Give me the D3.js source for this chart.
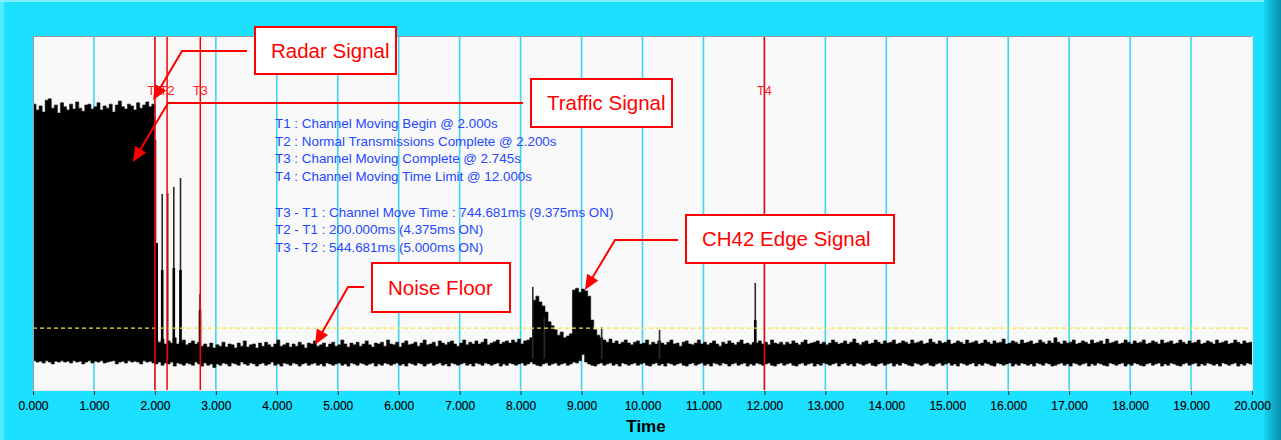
<!DOCTYPE html>
<html><head><meta charset="utf-8">
<script src="https://cdn.jsdelivr.net/npm/d3@7"></script>
<style>html,body{margin:0;padding:0;background:#1ce0ff;overflow:hidden}</style>
</head><body><svg id="chart" width="1281" height="440"></svg>
<script>
// ---------------- DATA ----------------
const sampleStep = 0.05; // seconds between envelope samples
// upper envelope of the received signal (dBm), one value per sample (0 .. 20 s)
const sigMax = [
 -35.4,-36.7,-35.8,-37.2,-34.5,-34.2,-36.3,-35.6,-37.4,-35.1,
 -36.0,-36.7,-35.4,-36.5,-34.9,-36.3,-37.0,-35.6,-35.4,-36.5,
 -36.0,-35.1,-36.7,-35.8,-36.3,-35.4,-37.2,-35.6,-34.7,-36.0,
 -36.5,-35.4,-35.8,-36.7,-35.1,-36.3,-35.6,-34.9,-36.0,-35.4,
 -88.7,-89.2,-88.5,-89.6,-88.9,-89.4,-88.2,-89.6,-89.2,-88.7,-89.8,-89.4,-88.9,-89.6,-89.2,
 -90.1,-89.6,-90.3,-89.4,-90.5,-89.8,-90.1,-89.2,-90.3,-89.6,
 -89.8,-90.5,-89.4,-90.1,-88.9,-90.3,-89.8,-89.6,-90.5,-89.4,
 -90.1,-89.2,-89.8,-90.3,-89.6,-88.7,-90.1,-89.8,-89.4,-90.3,
 -89.6,-90.1,-89.2,-89.8,-90.5,-89.4,-89.6,-88.9,-90.1,-89.8,
 -89.4,-90.3,-89.6,-89.2,-90.1,-89.8,-88.7,-89.6,-90.3,-89.4,
 -89.8,-89.2,-90.1,-89.6,-88.9,-89.8,-90.3,-89.4,-89.6,-89.2,
 -90.1,-88.7,-89.6,-89.8,-89.2,-90.3,-89.4,-88.9,-89.8,-89.6,
 -89.2,-90.1,-89.4,-88.7,-89.8,-89.6,-89.2,-90.1,-88.9,-89.4,
 -89.8,-89.2,-88.9,-89.6,-90.1,-89.4,-88.7,-89.8,-89.2,-89.6,
 -88.9,-89.6,-89.2,-88.5,-89.8,-89.4,-89.1,-88.7,-89.6,-89.2,
 -88.9,-89.4,-88.7,-89.2,-88.5,-89.6,-88.9,-88.7,-88.2,
 -79.7,-78.8,-80.1,-81.0,-82.4,-84.6,-85.5,-86.4,-87.6,-86.9,-88.2,-87.8,-87.3,
 -77.4,-77.0,-77.9,-77.2,-77.6,-78.8,
 -84.2,-86.4,-87.6,-88.2,
 -88.7,-89.2,-88.5,-89.4,-88.9,-89.6,-89.2,-88.7,-89.4,-89.8,
 -89.2,-88.9,-89.6,-89.4,-88.7,-89.8,-89.2,-89.6,-88.9,-89.4,
 -89.8,-89.2,-88.7,-89.6,-89.4,-90.1,-89.2,-88.9,-89.6,-89.8,
 -89.4,-88.7,-89.6,-89.2,-89.8,-89.4,-88.9,-89.6,-90.1,-89.2,
 -89.6,-88.9,-89.4,-89.8,-89.2,-88.7,-89.6,-89.4,-89.8,-89.2,
 -89.4,-88.9,-89.6,-89.2,-89.8,-88.7,-89.4,-89.6,-89.2,-89.8,
 -89.2,-89.6,-88.9,-89.4,-89.8,-89.2,-88.7,-89.6,-89.4,-89.2,
 -88.9,-89.6,-89.2,-89.8,-89.4,-88.7,-89.2,-89.6,-89.4,-88.9,
 -89.6,-89.2,-88.5,-89.4,-89.8,-89.2,-88.9,-89.6,-89.4,-88.7,
 -89.2,-89.6,-88.9,-89.4,-89.2,-88.7,-89.6,-89.4,-88.9,-89.2,
 -89.6,-88.7,-89.4,-89.2,-88.9,-89.6,-89.4,-88.5,-89.2,-89.6,
 -88.9,-89.4,-89.2,-88.7,-89.6,-89.4,-88.9,-89.2,-89.6,-88.7,
 -89.4,-89.2,-88.9,-89.6,-89.4,-88.7,-89.2,-89.6,-88.9,-89.4,
 -89.2,-88.5,-89.6,-89.4,-88.9,-89.2,-89.6,-88.7,-89.4,-89.2,
 -88.9,-89.6,-89.4,-88.7,-89.2,-89.6,-88.9,-89.4,-88.2,-89.2,
 -89.6,-88.9,-89.4,-89.2,-88.7,-89.6,-89.4,-88.9,-89.2,-89.6,
 -88.7,-89.4,-89.2,-88.9,-89.6,-88.5,-89.4,-89.2,-88.9,-89.6,
 -89.4,-88.7,-89.2,-89.6,-88.9,-89.4,-89.2,-88.7,-89.6,-89.4,
 -88.9,-89.2,-89.6,-88.7,-89.4,-89.2,-88.9,-89.6,-89.4,-88.7,
 -89.2,-89.6,-88.9,-89.4,-89.2,-88.7,-89.6,-89.4,-88.9,-89.2,
 -89.6,-88.7,-89.4,-89.2,-88.9,-89.6,-89.4,-88.7,-89.2,-89.6,
 -88.9,-89.4,-89.2,-89.6
];
// lower envelope of the received signal (dBm)
const sigMin = [
 -93.4,-93.7,-93.5,-93.9,-93.4,-93.7,-94.1,-93.5,-93.7,-93.4,
 -93.7,-93.5,-93.9,-93.4,-93.7,-93.5,-94.1,-93.7,-93.4,-93.9,
 -93.5,-93.7,-93.4,-93.9,-93.7,-93.5,-93.4,-94.1,-93.7,-93.5,
 -93.9,-93.4,-93.7,-93.5,-93.7,-94.1,-93.4,-93.7,-93.5,-93.9,
 -94.1,-93.7,-94.4,-93.9,-94.1,-93.7,-94.6,-93.9,-94.1,-94.4,
 -93.9,-94.1,-94.4,-93.7,-94.1,-94.6,-93.9,-94.4,-94.1,-94.9,
 -94.1,-94.4,-93.9,-94.1,-94.6,-93.9,-94.1,-94.4,-93.7,-94.1,
 -94.4,-93.9,-94.1,-94.6,-94.1,-93.9,-94.4,-94.1,-93.7,-94.4,
 -94.1,-94.6,-93.9,-94.1,-94.4,-93.9,-94.1,-94.6,-94.1,-93.9,
 -94.4,-94.1,-93.9,-94.4,-94.1,-94.6,-93.9,-94.1,-94.4,-94.1,
 -93.9,-94.4,-94.1,-94.6,-93.9,-94.1,-94.4,-93.9,-94.1,-94.4,
 -94.1,-93.9,-94.6,-94.1,-94.4,-93.9,-94.1,-94.4,-94.1,-93.9,
 -94.4,-94.1,-94.6,-93.9,-94.1,-94.4,-93.9,-94.1,-94.6,-94.1,
 -93.9,-94.4,-94.1,-93.9,-94.4,-94.1,-94.6,-93.9,-94.1,-94.4,
 -94.1,-93.9,-94.4,-94.1,-94.6,-93.9,-94.1,-94.4,-93.9,-94.1,
 -94.4,-94.1,-93.9,-94.6,-94.1,-94.4,-93.9,-94.1,-94.4,-94.1,
 -93.9,-94.4,-94.1,-93.7,-94.1,-94.4,-94.6,-94.1,-93.9,-94.4,
 -94.1,-93.9,-94.4,-94.1,-93.9,-94.4,-94.1,-93.7,-93.9,-93.4,
 -92.0,-93.7,-94.1,-94.4,-94.6,-94.1,-93.9,-94.4,-94.1,-93.9,
 -94.4,-94.1,-94.6,-93.9,-94.1,-94.4,-94.1,-93.9,-94.4,-94.1,
 -93.9,-94.4,-94.6,-94.1,-93.9,-94.4,-94.1,-94.6,-93.9,-94.1,
 -94.4,-94.1,-93.9,-94.4,-94.6,-94.1,-93.9,-94.4,-94.1,-93.9,
 -94.4,-94.1,-94.6,-93.9,-94.1,-94.4,-93.9,-94.1,-94.6,-94.1,
 -93.9,-94.4,-94.1,-93.9,-94.6,-94.1,-94.4,-93.9,-94.1,-94.4,
 -94.1,-93.9,-94.4,-94.6,-94.1,-93.9,-94.4,-94.1,-93.9,-94.4,
 -94.6,-94.1,-93.9,-94.4,-94.1,-93.9,-94.6,-94.1,-94.4,-93.9,
 -94.1,-94.4,-94.1,-93.9,-94.6,-94.1,-93.9,-94.4,-94.1,-94.6,
 -93.9,-94.1,-94.4,-94.1,-93.9,-94.4,-94.6,-94.1,-93.9,-94.4,
 -94.1,-93.9,-94.6,-94.1,-94.4,-93.9,-94.1,-94.4,-94.6,-93.9,
 -94.1,-94.4,-94.1,-93.9,-94.4,-94.6,-94.1,-93.9,-94.4,-94.1,
 -93.9,-94.4,-94.1,-94.6,-93.9,-94.1,-94.4,-94.1,-93.9,-94.6,
 -94.1,-94.4,-93.9,-94.1,-94.4,-94.6,-93.9,-94.1,-94.4,-94.1,
 -93.9,-94.6,-94.1,-94.4,-93.9,-94.1,-94.4,-94.1,-94.6,-93.9,
 -94.1,-94.4,-93.9,-94.1,-94.6,-94.4,-94.1,-93.9,-94.4,-94.1,
 -94.6,-93.9,-94.1,-94.4,-94.1,-93.9,-94.6,-94.1,-94.4,-93.9,
 -94.1,-94.4,-94.6,-93.9,-94.1,-94.4,-94.1,-93.9,-94.6,-94.1,
 -94.4,-93.9,-94.1,-94.4,-94.6,-94.1,-93.9,-94.4,-94.1,-93.9,
 -94.6,-94.1,-94.4,-93.9,-94.1,-94.4,-94.6,-94.1,-93.9,-94.4,
 -94.1,-93.9,-94.6,-94.1,-94.4,-93.9,-94.1,-94.4,-94.1,-94.6,
 -93.9,-94.1,-94.4,-94.1,-93.9,-94.6,-94.1,-94.4,-93.9,-94.1,
 -94.4
];
// isolated narrow pulses (time s, peak dBm)
const spikeTimes = [2.01, 2.03, 2.12, 2.21, 2.31, 2.42, 2.74, 8.20, 8.39, 9.33, 10.28, 11.85];
const spikePeaks = [-43.5, -66.8, -55.7, -55.5, -54.1, -52.1, -78.3, -76.7, -83.6, -85.8, -86.4, -75.8];
// denser (thicker) lower parts of some pulses
const coreTimes = [2.03, 2.12, 2.31, 2.42, 2.74, 11.85];
const corePeaks = [-66.8, -72.9, -72.4, -72.9, -81.9, -84.2];
const spikeBase = -93.0;

const markerNames = ["T1", "T2", "T3", "T4"];
const markerTimes = [2.000, 2.200, 2.745, 12.000];
const thresholdLevel = -86.0;

const xTickValues = [0,1,2,3,4,5,6,7,8,9,10,11,12,13,14,15,16,17,18,19,20];
const xTitle = "Time";

const infoLines = [
  "T1 : Channel Moving Begin @ 2.000s",
  "T2 : Normal Transmissions Complete @ 2.200s",
  "T3 : Channel Moving Complete @ 2.745s",
  "T4 : Channel Moving Time Limit @ 12.000s",
  "",
  "T3 - T1 : Channel Move Time : 744.681ms (9.375ms ON)",
  "T2 - T1 : 200.000ms (4.375ms ON)",
  "T3 - T2 : 544.681ms (5.000ms ON)"
];

const calloutLabels = ["Radar Signal", "Traffic Signal", "Noise Floor", "CH42 Edge Signal"];
const calloutTipTimes = [1.969, 1.641, 4.627, 9.056];
const calloutTipValues = [-34.5, -48.5, -89.8, -77.4];

// ---------------- LAYOUT ----------------
const W = 1281, H = 440;
const plot = {left: 33, right: 1252, top: 36, bottom: 390};
const calloutBoxes = [[255,27,141,47],[531,79,141,48],[372,263,138,49],[686,215,208,48]];
const calloutElbows = [[182,51],[168,103],[348,287],[615,240]];

const svg = d3.select("#chart");
const x = d3.scaleLinear().domain([0, 20]).range([plot.left, plot.right]);
const y = d3.scaleLinear().domain([-100, -20]).range([plot.bottom, plot.top]);

// background frame
const defs = svg.append("defs");
const rg = defs.append("linearGradient").attr("id","rightEdge").attr("x1","0").attr("x2","1").attr("y1","0").attr("y2","0");
rg.append("stop").attr("offset","0").attr("stop-color","#1ad8f8");
rg.append("stop").attr("offset","0.3").attr("stop-color","#12bcdc");
rg.append("stop").attr("offset","1").attr("stop-color","#0890ac");
defs.append("clipPath").attr("id","plotClip").append("rect")
  .attr("x", plot.left).attr("y", plot.top).attr("width", plot.right-plot.left).attr("height", plot.bottom-plot.top);

svg.append("rect").attr("width", W).attr("height", H).attr("fill", "#1be0ff");
svg.append("rect").attr("x",0).attr("y",0).attr("width",4).attr("height",H).attr("fill","#52eaff");
svg.append("rect").attr("x",0).attr("y",0).attr("width",W).attr("height",2).attr("fill","#7ff0ff");
svg.append("rect").attr("x",1264).attr("y",0).attr("width",17).attr("height",H).attr("fill","url(#rightEdge)");

// plot area
svg.append("rect").attr("x", plot.left).attr("y", plot.top)
  .attr("width", plot.right-plot.left).attr("height", plot.bottom-plot.top).attr("fill", "#f9f9f9");

// vertical grid
svg.append("g").selectAll("line").data(xTickValues.filter(d => d > 0 && d < 20)).join("line")
  .attr("x1", d => x(d)).attr("x2", d => x(d)).attr("y1", plot.top).attr("y2", plot.bottom)
  .attr("stroke", "#3cd6f4").attr("stroke-width", 1.6);

const g = svg.append("g").attr("clip-path", "url(#plotClip)");

// signal envelope
const area = d3.area()
  .x((d, i) => x(i * sampleStep))
  .y0((d, i) => y(sigMin[i]))
  .y1((d, i) => y(sigMax[i]))
  .curve(d3.curveStepAfter);
g.append("path").datum(sigMax).attr("d", area).attr("fill", "#000").attr("stroke", "#111").attr("stroke-width", 0.6);

// spikes
g.append("g").selectAll("line").data(spikeTimes).join("line")
  .attr("x1", d => x(d)).attr("x2", d => x(d))
  .attr("y1", y(spikeBase)).attr("y2", (d, i) => y(spikePeaks[i]))
  .attr("stroke", "#2a2a2a").attr("stroke-width", 1.6);
g.append("g").selectAll("line").data(coreTimes).join("line")
  .attr("x1", d => x(d)).attr("x2", d => x(d))
  .attr("y1", y(spikeBase)).attr("y2", (d, i) => y(corePeaks[i]))
  .attr("stroke", "#000").attr("stroke-width", 2.6);

// threshold
g.append("line").attr("x1", plot.left).attr("x2", plot.right)
  .attr("y1", y(thresholdLevel)).attr("y2", y(thresholdLevel))
  .attr("stroke", "#f5e63c").attr("stroke-width", 1.2).attr("stroke-dasharray", "4,3");

// marker lines
svg.append("g").selectAll("line").data(markerTimes).join("line")
  .attr("x1", d => x(d)).attr("x2", d => x(d)).attr("y1", plot.top).attr("y2", plot.bottom)
  .attr("stroke", "#ff0000").attr("stroke-width", 1.5);
svg.append("g").selectAll("text").data(markerTimes).join("text")
  .attr("x", d => x(d)).attr("y", 95).attr("text-anchor", "middle")
  .attr("font-family", "Liberation Sans, Arial, sans-serif").attr("font-size", 12.5)
  .attr("fill", "#ff2020").text((d, i) => markerNames[i]);

// plot border (sunken look)
svg.append("line").attr("x1", plot.left).attr("x2", plot.right).attr("y1", plot.top+0.5).attr("y2", plot.top+0.5).attr("stroke", "#9a9a9a");
svg.append("line").attr("x1", plot.left+0.5).attr("x2", plot.left+0.5).attr("y1", plot.top).attr("y2", plot.bottom).attr("stroke", "#9a9a9a");
svg.append("line").attr("x1", plot.right+0.5).attr("x2", plot.right+0.5).attr("y1", plot.top).attr("y2", plot.bottom+1).attr("stroke", "#e8e8e8");
svg.append("line").attr("x1", plot.left).attr("x2", plot.right).attr("y1", plot.bottom+0.5).attr("y2", plot.bottom+0.5).attr("stroke", "#e8e8e8");

// info text
svg.append("g").selectAll("text").data(infoLines).join("text")
  .attr("x", 275).attr("y", (d, i) => 128 + i * 17.7)
  .attr("font-family", "Liberation Sans, Arial, sans-serif").attr("font-size", 13.4)
  .attr("fill", "#2448ff").text(d => d);

// x axis
const axis = d3.axisBottom(x).tickValues(xTickValues).tickFormat(d3.format(".3f")).tickSize(4).tickPadding(6);
const ax = svg.append("g").attr("transform", `translate(0,${plot.bottom+1})`).call(axis);
ax.select(".domain").remove();
ax.selectAll(".tick line").attr("stroke", "#222");
ax.selectAll(".tick text").attr("font-family", "Liberation Sans, Arial, sans-serif").attr("font-size", 12)
  .attr("fill", "#000").attr("stroke", "#000").attr("stroke-width", 0.15);
svg.append("text").attr("x", 646).attr("y", 432).attr("text-anchor", "middle")
  .attr("font-family", "Liberation Sans, Arial, sans-serif").attr("font-size", 17).attr("font-weight", "bold")
  .attr("fill", "#000").text(xTitle);

// callouts
calloutLabels.forEach((lab, i) => {
  const [bx, by, bw, bh] = calloutBoxes[i];
  const [ex, ey] = calloutElbows[i];
  const tx = x(calloutTipTimes[i]), ty = y(calloutTipValues[i]);
  const dx = tx - ex, dy = ty - ey, len = Math.hypot(dx, dy);
  const ux = dx / len, uy = dy / len;
  const headLen = 15, headW = 6.5;
  const baseX = tx - ux * headLen, baseY = ty - uy * headLen;
  svg.append("polyline")
    .attr("points", `${bx-8},${ey} ${ex},${ey} ${baseX+ux},${baseY+uy}`)
    .attr("fill", "none").attr("stroke", "#ff0000").attr("stroke-width", 2);
  svg.append("polygon")
    .attr("points", `${tx},${ty} ${baseX - uy*headW},${baseY + ux*headW} ${baseX + uy*headW},${baseY - ux*headW}`)
    .attr("fill", "#ff0000");
  svg.append("rect").attr("x", bx).attr("y", by).attr("width", bw).attr("height", bh)
    .attr("fill", "#fff").attr("stroke", "#ff0000").attr("stroke-width", 2);
  svg.append("text").attr("x", bx + 16).attr("y", by + bh/2 + 7.3)
    .attr("font-family", "Liberation Sans, Arial, sans-serif").attr("font-size", 20.5)
    .attr("fill", "#ff0000").text(lab);
});
</script></body></html>
